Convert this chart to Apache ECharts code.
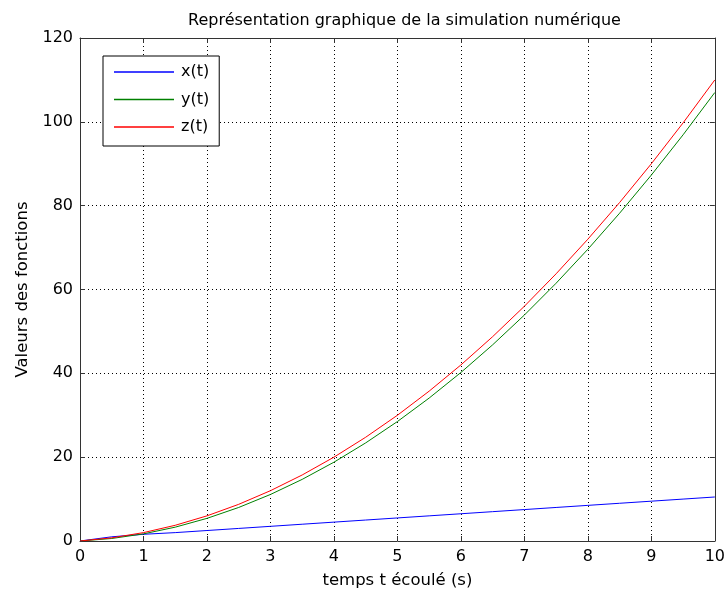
<!DOCTYPE html>
<html>
<head>
<meta charset="utf-8">
<script src="https://cdn.jsdelivr.net/npm/echarts@6/dist/echarts.min.js"></script>
<style>html,body{margin:0;padding:0;background:#fff}#c{width:728px;height:594px}</style>
</head>
<body>
<div id="c"></div>
<script>
var tValues = [0,0.5,1,1.5,2,2.5,3,3.5,4,4.5,5,5.5,6,6.5,7,7.5,8,8.5,9,9.5,10];
var xSeries = [0,1.0,1.6,2.0,2.5,3.0,3.5,4.0,4.5,5.0,5.5,6.0,6.5,7.0,7.5,8.0,8.5,9.0,9.5,10.0,10.5];
var ySeries = [0,0.6,1.7,3.3,5.4,8.0,11.1,14.7,18.8,23.4,28.5,34.1,40.2,46.8,53.9,61.5,69.6,78.2,87.3,96.9,107];
var zSeries = [0,0.75,2,3.75,6,8.75,12,15.75,20,24.75,30,35.75,42,48.75,56,63.75,72,80.75,90,99.75,110];
var seriesNames = ['x(t)','y(t)','z(t)'];
var xTicks = [0,1,2,3,4,5,6,7,8,9,10];
var yTicks = [0,20,40,60,80,100,120];

function pairs(vals){ return tValues.map(function(t,i){return [t, vals[i]];}); }
var font = '"DejaVu Sans", Verdana, sans-serif';
var chart = echarts.init(document.getElementById('c'), null, {renderer:'canvas'});
var axisCommon = {
  axisLine:{show:true, onZero:false, lineStyle:{color:'#333', width:1}},
  axisTick:{show:true, inside:true, length:5, lineStyle:{color:'#333'}},
  splitLine:{show:false}
};
chart.setOption({
  backgroundColor:'#fff',
  animation:false,
  title:{text:'Représentation graphique de la simulation numérique', left:399.5, textAlign:'center', top:8,
    textStyle:{fontFamily:font, fontSize:16, fontWeight:'normal', color:'#000'}},
  legend:{
    orient:'vertical', left:103, top:56, data:seriesNames,
    icon:'rect', itemWidth:60, itemHeight:1.5, itemGap:11.5,
    padding:[8,10,11,11], borderColor:'#000', borderWidth:1, backgroundColor:'#fff',
    textStyle:{fontFamily:font, fontSize:16, lineHeight:16, color:'#000', padding:[0,0,0,2]}
  },
  grid:{left:80, right:9, top:38, bottom:53, containLabel:false},
  xAxis:[
    Object.assign({}, axisCommon, {type:'value', min:0, max:10, interval:1, position:'bottom',
      name:'temps t écoulé (s)', nameLocation:'middle', nameGap:31,
      nameTextStyle:{fontFamily:font, fontSize:16.5, color:'#000'},
      axisLabel:{fontFamily:font, fontSize:16, color:'#000', margin:8, formatter:function(v){return xTicks.indexOf(v)>=0?String(v):'';}},
      splitLine:{show:true, lineStyle:{color:'#000', type:[1,3], width:1}}}),
    Object.assign({}, axisCommon, {type:'value', min:0, max:10, interval:1, position:'top', axisLabel:{show:false}})
  ],
  yAxis:[
    Object.assign({}, axisCommon, {type:'value', min:0, max:120, interval:20, position:'left',
      name:'Valeurs des fonctions', nameLocation:'middle', nameGap:49,
      nameTextStyle:{fontFamily:font, fontSize:16.5, color:'#000'},
      axisLabel:{fontFamily:font, fontSize:16, color:'#000', margin:7, formatter:function(v){return yTicks.indexOf(v)>=0?String(v):'';}},
      splitLine:{show:true, lineStyle:{color:'#000', type:[1,3], width:1}}}),
    Object.assign({}, axisCommon, {type:'value', min:0, max:120, interval:20, position:'right', axisLabel:{show:false}})
  ],
  series:[
    {name:seriesNames[0], type:'line', data:pairs(xSeries), showSymbol:false, symbol:'none', lineStyle:{color:'#0000ff', width:1}, itemStyle:{color:'#0000ff'}},
    {name:seriesNames[1], type:'line', data:pairs(ySeries), showSymbol:false, symbol:'none', lineStyle:{color:'#008000', width:1}, itemStyle:{color:'#008000'}},
    {name:seriesNames[2], type:'line', data:pairs(zSeries), showSymbol:false, symbol:'none', lineStyle:{color:'#ff0000', width:1}, itemStyle:{color:'#ff0000'}}
  ]
});
</script>
</body>
</html>
